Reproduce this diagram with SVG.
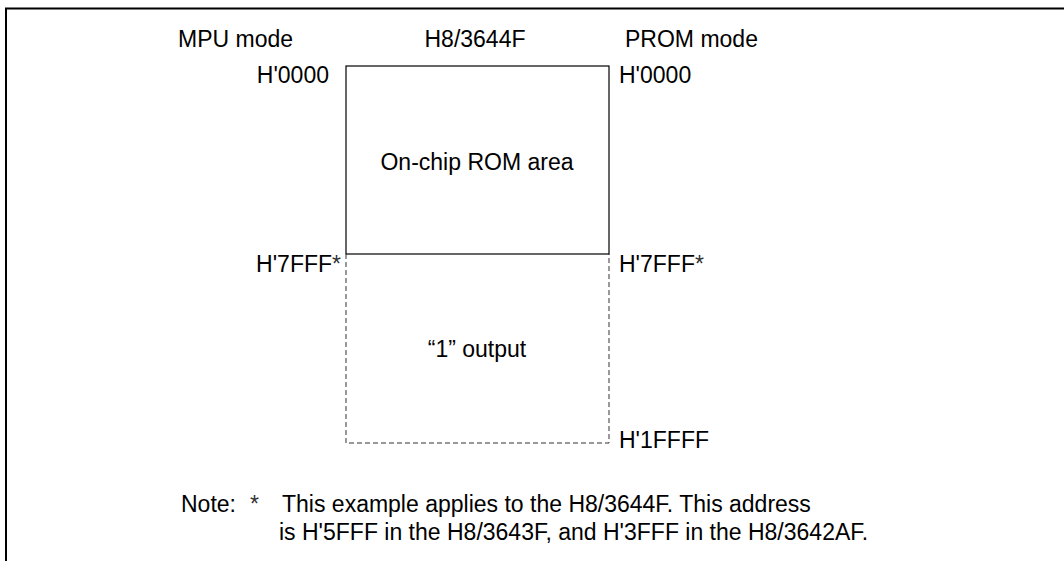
<svg xmlns="http://www.w3.org/2000/svg" width="1064" height="561" viewBox="0 0 1064 561">
<style>
text{font-family:"Liberation Sans",Arial,sans-serif;font-size:23px;fill:#000}
.ast{fill:#333}
.solid{fill:none;stroke:#000;stroke-width:1.2}
.dash{fill:none;stroke:#333;stroke-width:1;stroke-dasharray:5 3}
.frame{fill:none;stroke:#000;stroke-width:2}
</style>
<rect x="0" y="0" width="1064" height="561" fill="#fff"/>
<path class="frame" d="M6,561 V8.5 H1064"/>
<g id="headers">
<text x="178" y="47">MPU mode</text>
<text x="475" y="47" text-anchor="middle">H8/3644F</text>
<text x="625" y="47">PROM mode</text>
</g>
<g id="rom-area">
<rect class="solid" x="346" y="66" width="263" height="188"/>
<text x="477" y="170" text-anchor="middle">On-chip ROM area</text>
</g>
<g id="output-area">
<path class="dash" d="M346,254 V443 H609 V254"/>
<text x="477" y="357" text-anchor="middle">“1” output</text>
</g>
<g id="addresses">
<text x="329" y="83" text-anchor="end">H'0000</text>
<text x="619" y="83">H'0000</text>
<text x="341" y="272" text-anchor="end">H'7FFF<tspan class="ast">*</tspan></text>
<text x="619" y="272">H'7FFF<tspan class="ast">*</tspan></text>
<text x="619" y="448">H'1FFFF</text>
</g>
<g id="note">
<text x="181" y="512">Note:</text>
<text x="250" y="512" class="ast">*</text>
<text x="282" y="512">This example applies to the H8/3644F. This address</text>
<text x="279" y="540">is H'5FFF in the H8/3643F, and H'3FFF in the H8/3642AF.</text>
</g>
<g id="connectors"></g>
</svg>
